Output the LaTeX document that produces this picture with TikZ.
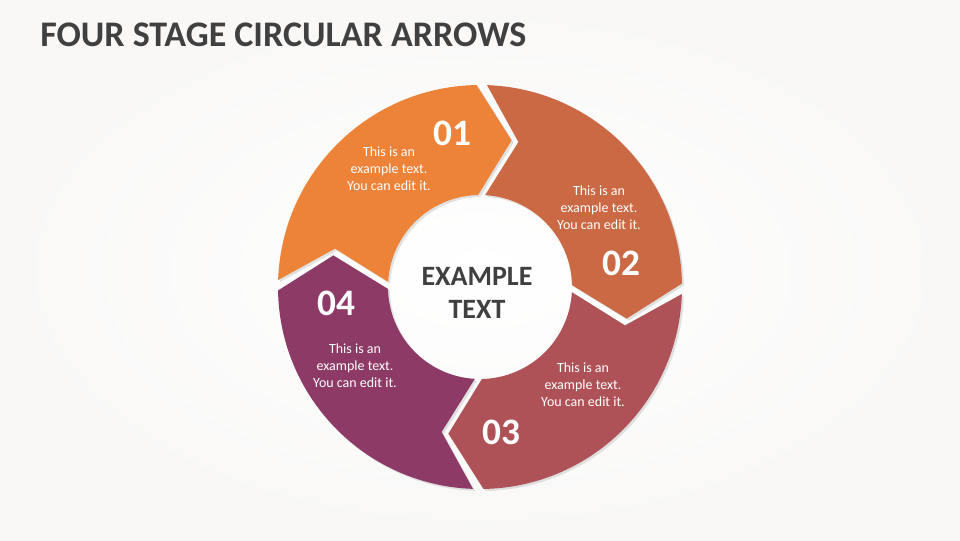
\documentclass[tikz,border=0pt]{standalone}
\usepackage{fontspec}
\setmainfont{Carlito}
\usetikzlibrary{shadows}
\definecolor{stageA}{RGB}{236,131,57}
\definecolor{stageB}{RGB}{203,105,68}
\definecolor{stageC}{RGB}{175,82,87}
\definecolor{stageD}{RGB}{141,58,102}
\definecolor{darktext}{RGB}{64,64,64}
\definecolor{backdrop}{RGB}{249,248,247}
\begin{document}
\begin{tikzpicture}[x=0.75pt,y=0.75pt,
    stagepart/.style={drop shadow={opacity=0.22,shadow xshift=1.5pt,shadow yshift=-1.5pt}},
    stagenum/.style={text=white,font=\fontsize{28}{30}\selectfont\bfseries},
    stagetext/.style={text=white,align=center,font=\fontsize{10.5}{12.75}\selectfont}]
    \useasboundingbox (0,0) rectangle (960,540);
    \shade[inner color=white,outer color=backdrop] (0,0) rectangle (960,540);
    \node[anchor=base west,inner sep=0pt,text=darktext,font=\fontsize{27}{30}\selectfont\bfseries] (title) at (40,493) {FOUR STAGE CIRCULAR ARROWS};
    \begin{scope}[shift={(480,253)}]
        \fill[stageA,stagepart] (178.01:202) arc[start angle=178.01,end angle=90.99,radius=202] -- (77.84:150) -- (91.2:92) arc[start angle=91.2,end angle=176.8,radius=92] -- (165.16:150) -- cycle;
        \fill[stageB,stagepart] (88.01:202) arc[start angle=88.01,end angle=0.99,radius=202] -- (-12.16:150) -- (1.2:92) arc[start angle=1.2,end angle=86.8,radius=92] -- (75.16:150) -- cycle;
        \fill[stageC,stagepart] (-1.99:202) arc[start angle=-1.99,end angle=-89.01,radius=202] -- (-102.16:150) -- (-88.8:92) arc[start angle=-88.8,end angle=-3.2,radius=92] -- (-14.84:150) -- cycle;
        \fill[stageD,stagepart] (-91.99:202) arc[start angle=-91.99,end angle=-179.01,radius=202] -- (-192.16:150) -- (-178.8:92) arc[start angle=-178.8,end angle=-93.2,radius=92] -- (-104.84:150) -- cycle;
    \end{scope}
    \node[stagenum] (n01) at (452,407) {01};
    \node[stagetext] (t01) at (389,371) {This is an\\example text.\\You can edit it.};
    \node[stagenum] (n02) at (621,277) {02};
    \node[stagetext] (t02) at (599,332) {This is an\\example text.\\You can edit it.};
    \node[stagenum] (n03) at (501,108) {03};
    \node[stagetext] (t03) at (583,155) {This is an\\example text.\\You can edit it.};
    \node[stagenum] (n04) at (336,237) {04};
    \node[stagetext] (t04) at (355,174) {This is an\\example text.\\You can edit it.};
    \node[align=center,text=darktext,font=\fontsize{21}{25}\selectfont\bfseries] (centre) at (477,247) {EXAMPLE\\TEXT};
\end{tikzpicture}
\end{document}
